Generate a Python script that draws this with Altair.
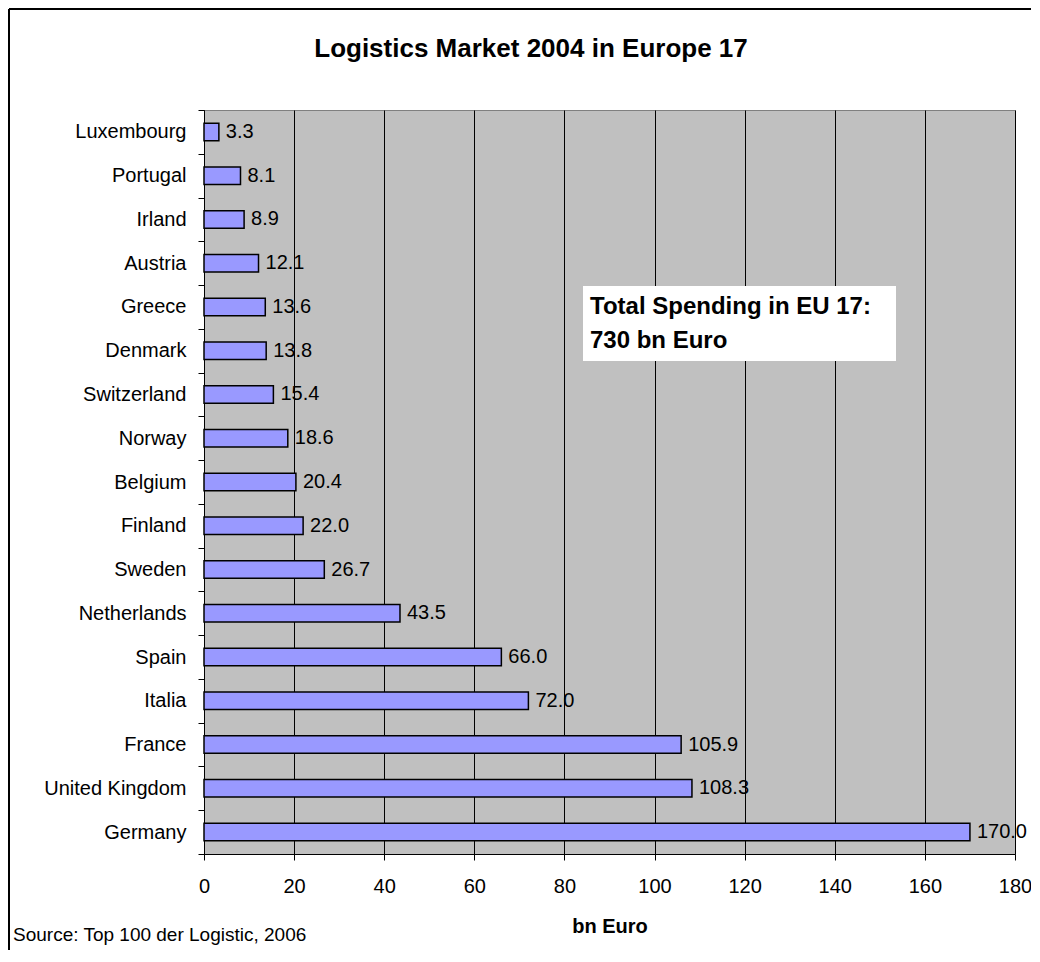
import altair as alt
import pandas as pd

countries = ["Luxembourg", "Portugal", "Irland", "Austria", "Greece", "Denmark",
             "Switzerland", "Norway", "Belgium", "Finland", "Sweden", "Netherlands",
             "Spain", "Italia", "France", "United Kingdom", "Germany"]
values = [3.3, 8.1, 8.9, 12.1, 13.6, 13.8, 15.4, 18.6, 20.4, 22.0, 26.7, 43.5,
          66.0, 72.0, 105.9, 108.3, 170.0]
x_ticks = [0, 20, 40, 60, 80, 100, 120, 140, 160, 180]

title_text = "Logistics Market 2004 in Europe 17"
note_lines = ["Total Spending in EU 17:", "730 bn Euro"]
source_text = "Source: Top 100 der Logistic, 2006"
x_title = "bn Euro"

FONT = "Liberation Sans"
W, H = 811, 744

df = pd.DataFrame({"country": countries, "value": values})
one = pd.DataFrame({"k": [0]})

y_enc = alt.Y("country:N", sort=countries, title=None,
              scale=alt.Scale(paddingInner=0, paddingOuter=0),
              axis=alt.Axis(tickBand="extent", tickSize=6, labelPadding=12,
                            domainColor="black", tickColor="black", labelColor="black",
                            labelFontSize=20, labelFont=FONT, grid=False))
x_enc = alt.X("value:Q", title=x_title,
              scale=alt.Scale(domain=[0, 180], nice=False),
              axis=alt.Axis(values=x_ticks, grid=True, gridColor="black", gridWidth=1,
                            tickSize=6, labelPadding=16, titlePadding=20,
                            domainColor="black", tickColor="black", labelColor="black",
                            labelFontSize=20, labelFont=FONT, titleFontSize=20,
                            titleFont=FONT, titleFontWeight="bold", titleColor="black",
                            labelFlush=False))

frame_top = alt.Chart(one).mark_rule(stroke="black", strokeWidth=2).encode(
    x=alt.value(-195), x2=alt.value(W + 40), y=alt.value(-101))
frame_left = alt.Chart(one).mark_rule(stroke="black", strokeWidth=2).encode(
    x=alt.value(-195), y=alt.value(-101), y2=alt.value(H + 120))

bars = alt.Chart(df).mark_bar(height={"band": 0.4}, color="#9999FF",
                              stroke="black", strokeWidth=1.5).encode(y=y_enc, x=x_enc)

labels = alt.Chart(df).mark_text(align="left", baseline="middle", dx=7,
                                 fontSize=20, font=FONT, color="black").encode(
    y=alt.Y("country:N", sort=countries), x=alt.X("value:Q"),
    text=alt.Text("value:Q", format=".1f"))

note_box = alt.Chart(one).mark_rect(fill="white").encode(
    x=alt.value(379), x2=alt.value(692), y=alt.value(176), y2=alt.value(251))
note_text = alt.Chart(one).mark_text(align="left", baseline="alphabetic", fontSize=24,
                                     fontWeight="bold", font=FONT, color="black",
                                     lineHeight=34).encode(
    x=alt.value(386), y=alt.value(204), text=alt.value(note_lines))

title = alt.Chart(one).mark_text(align="center", baseline="alphabetic", fontSize=26,
                                 fontWeight="bold", font=FONT, color="black").encode(
    x=alt.value(327), y=alt.value(-53), text=alt.value(title_text))

source = alt.Chart(one).mark_text(align="left", baseline="alphabetic", fontSize=19,
                                  font=FONT, color="black").encode(
    x=alt.value(-191), y=alt.value(831), text=alt.value(source_text))

chart = alt.layer(frame_top, frame_left, bars, labels, note_box, note_text, title,
                  source).properties(
    width=W, height=H,
    autosize=alt.AutoSizeParams(type="none"),
    padding={"left": 196, "top": 102, "right": 16, "bottom": 96},
    background="white",
).configure_view(fill="#C0C0C0", stroke="#808080", strokeWidth=1)

chart.save("out.html", embed_options={"renderer": "svg", "actions": False})
